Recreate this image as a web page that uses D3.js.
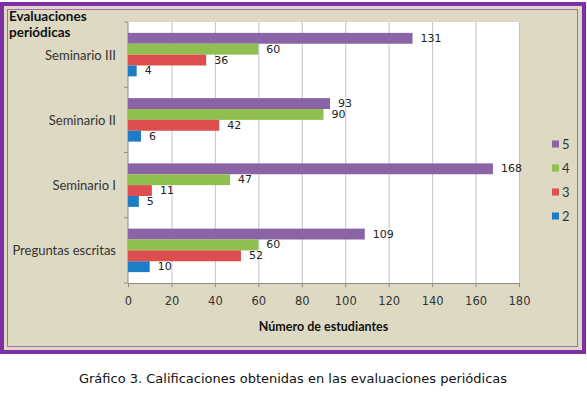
<!DOCTYPE html>
<html>
<head>
<meta charset="utf-8">
<script src="https://cdn.jsdelivr.net/npm/d3@7"></script>
<style>
  body { margin: 0; background: #fff; }
  svg { display: block; }
</style>
</head>
<body>
<svg id="chart" width="587" height="396"></svg>
<script>
// data, top to bottom
const categories = ["Seminario III", "Seminario II", "Seminario I", "Preguntas escritas"]
const seriesNames = ["5", "4", "3", "2"]
const nota5 = [131, 93, 168, 109]
const nota4 = [60, 90, 47, 60]
const nota3 = [36, 42, 11, 52]
const nota2 = [4, 6, 5, 10]
const xTicks = [0, 20, 40, 60, 80, 100, 120, 140, 160, 180]

const seriesValues = [nota5, nota4, nota3, nota2]
const colors = ["#8B64A6", "#8EBF4F", "#DF4E4E", "#1F7DC6"]

const svg = d3.select("#chart")

// frame
svg.append("rect").attr("x", 2).attr("y", 4).attr("width", 582).attr("height", 348)
  .attr("fill", "#DDD9C3").attr("stroke", "#7D2FA6").attr("stroke-width", 4)
svg.append("rect").attr("x", 7.5).attr("y", 9.5).attr("width", 570).attr("height", 337)
  .attr("fill", "none").attr("stroke", "#A569C4").attr("stroke-width", 1)

const plot = { left: 128, right: 519, top: 22, bottom: 283 }

const x = d3.scaleLinear().domain([0, 180]).range([plot.left, plot.right])
const y = d3.scaleBand().domain(categories).range([plot.top, plot.bottom])
const yInner = d3.scaleBand().domain(seriesNames).range([0, y.bandwidth()])
  .paddingInner(0).paddingOuter(1)

svg.append("rect").attr("x", plot.left).attr("y", plot.top)
  .attr("width", plot.right - plot.left).attr("height", plot.bottom - plot.top)
  .attr("fill", "#fff")

// gridlines
svg.append("g").attr("transform", `translate(0,${plot.bottom})`)
  .call(d3.axisBottom(x).tickValues(xTicks.slice(1)).tickSize(-(plot.bottom - plot.top)).tickFormat(""))
  .call(g => g.select(".domain").remove())
  .call(g => g.selectAll("line").attr("stroke", "#C4C4C4"))

// bottom axis
const xAxis = svg.append("g").attr("transform", `translate(0,${plot.bottom})`)
  .call(d3.axisBottom(x).tickValues(xTicks).tickSize(4).tickPadding(10).tickSizeOuter(0))
xAxis.select(".domain").attr("stroke", "#8C8C8C")
xAxis.selectAll("line").attr("stroke", "#8C8C8C")
xAxis.selectAll("text").attr("font-family", "DejaVu Sans").attr("font-size", 11.5).attr("fill", "#333")

// left axis, ticks between categories
svg.append("line").attr("x1", plot.left).attr("x2", plot.left)
  .attr("y1", plot.top).attr("y2", plot.bottom).attr("stroke", "#8C8C8C")
const bounds = categories.map(c => y(c)).concat([plot.bottom])
svg.selectAll(".ytick").data(bounds).enter().append("line")
  .attr("x1", plot.left - 4).attr("x2", plot.left)
  .attr("y1", d => d).attr("y2", d => d).attr("stroke", "#8C8C8C")

svg.selectAll(".cat").data(categories).enter().append("text")
  .attr("x", 116).attr("y", d => y(d) + y.bandwidth() / 2)
  .attr("text-anchor", "end").attr("dominant-baseline", "central")
  .attr("font-family", "Lato").attr("font-size", 13).attr("fill", "#333")
  .text(d => d)

// bars
const groups = svg.selectAll(".grp").data(categories).enter().append("g")
  .attr("transform", d => `translate(0,${y(d)})`)

seriesNames.forEach((s, si) => {
  groups.append("rect")
    .attr("x", x(0))
    .attr("y", yInner(s))
    .attr("width", (d, i) => x(seriesValues[si][i]) - x(0))
    .attr("height", yInner.bandwidth())
    .attr("fill", colors[si])
  groups.append("text")
    .attr("x", (d, i) => x(seriesValues[si][i]) + 8)
    .attr("y", yInner(s) + yInner.bandwidth() / 2)
    .attr("dominant-baseline", "central")
    .attr("font-family", "DejaVu Sans").attr("font-size", 11).attr("fill", "#222")
    .text((d, i) => seriesValues[si][i])
})

// legend
const legend = svg.selectAll(".leg").data(seriesNames).enter().append("g")
  .attr("transform", (d, i) => `translate(552,${144 + i * 24})`)
legend.append("rect").attr("x", 0).attr("y", -3.5).attr("width", 7).attr("height", 7)
  .attr("fill", (d, i) => colors[i])
legend.append("text").attr("x", 10).attr("y", 0).attr("dominant-baseline", "central")
  .attr("font-family", "Lato").attr("font-size", 13).attr("fill", "#333").text(d => d)

// titles
svg.append("text").attr("x", 9).attr("y", 21)
  .attr("font-family", "Lato").attr("font-weight", "bold").attr("font-size", 13.5).attr("fill", "#111")
  .text("Evaluaciones")
svg.append("text").attr("x", 9).attr("y", 37)
  .attr("font-family", "Lato").attr("font-weight", "bold").attr("font-size", 13.5).attr("fill", "#111")
  .text("periódicas")

svg.append("text").attr("x", (plot.left + plot.right) / 2).attr("y", 331)
  .attr("text-anchor", "middle")
  .attr("font-family", "Lato").attr("font-weight", "bold").attr("font-size", 12.5).attr("fill", "#111")
  .text("Número de estudiantes")

svg.append("text").attr("x", 293).attr("y", 383)
  .attr("text-anchor", "middle")
  .attr("font-family", "DejaVu Sans").attr("font-size", 13).attr("fill", "#111")
  .text("Gráfico 3. Calificaciones obtenidas en las evaluaciones periódicas")
</script>
</body>
</html>
